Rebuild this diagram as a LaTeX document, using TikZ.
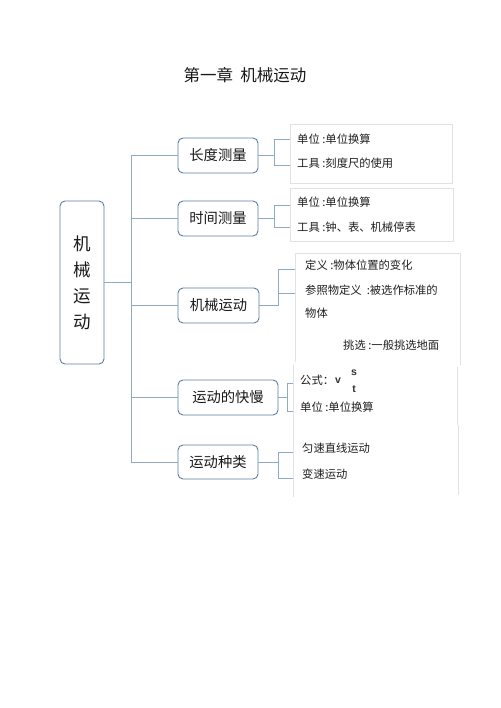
\documentclass[tikz,border=0pt]{standalone}
\usepackage{fontspec}
\newfontfamily\cjk{Noto Sans CJK SC}
\newfontfamily\lat{Liberation Sans}
\definecolor{boxc}{HTML}{5A7EA5}
\definecolor{linec}{HTML}{8FA9C8}
\definecolor{framec}{HTML}{E2E2E2}
\begin{document}
\begin{tikzpicture}[x=1pt,y=-1pt,
  topic/.style={draw=boxc, rounded corners=5pt, line width=0.9pt, font=\cjk\fontsize{14.3}{17}\selectfont, inner sep=0pt, minimum height=35pt, text=black!90},
  link/.style={draw=linec, line width=0.8pt},
  note/.style={font=\cjk\fontsize{11.3}{13}\selectfont, anchor=west, inner sep=0pt, text=black!88},
  small/.style={font=\lat\bfseries\fontsize{10.5}{11}\selectfont, inner sep=0pt, text=black!80},
  frame/.style={draw=framec, line width=0.7pt}]
\useasboundingbox[fill=white] (0,0) rectangle (500,708);

% title
\node[font=\cjk\fontsize{16.5}{19}\selectfont, text=black!90] (title) at (245,75) {第一章\ \ 机械运动};

% main box
\node[topic, minimum width=44pt, minimum height=163pt, align=center,
      font=\cjk\fontsize{17.5}{26}\selectfont] (m) at (82,282.5) {机\\械\\运\\动};

% topics
\node[topic, minimum width=80pt] (b1) at (218,155.5) {长度测量};
\node[topic, minimum width=80pt] (b2) at (218,218.5) {时间测量};
\node[topic, minimum width=81pt] (b3) at (218.5,305.5) {机械运动};
\node[topic, minimum width=100pt] (b4) at (228,397.5) {运动的快慢};
\node[topic, minimum width=80pt, minimum height=34pt] (b5) at (218,462) {运动种类};

% trunk
\coordinate (ttop) at (131,155.5);
\coordinate (tbot) at (131,462);
\draw[link] (m.east) -- (m.east -| ttop);
\draw[link] (ttop) -- (tbot);
\foreach \b in {b1,b2,b3,b4,b5} \draw[link] (\b.west -| ttop) -- (\b.west);

% frames
\draw[frame] (290,124) rectangle (452,183);
\draw[frame] (290,188) rectangle (453,241);
\draw[frame] (295,362) -- (295,253) -- (460,253) -- (460,365);
\draw[frame] (293,365) -- (293,425);
\draw[frame] (457,367) -- (457,425);
\draw[frame] (293,425) -- (293,497);
\draw[frame] (458,425) -- (458,495);

% bracket 1
\coordinate (k1) at (274,155.5);
\coordinate (n11) at (290,139);
\coordinate (n12) at (290,165);
\draw[link] (b1.east) -- (k1);
\draw[link] (n11) -| (k1);
\draw[link] (n12) -| (k1);
\node[note] (t11) at (297,139) {单位 :单位换算};
\node[note] (t12) at (297,163) {工具 :刻度尺的使用};

% bracket 2
\coordinate (k2) at (274,218.5);
\coordinate (n21) at (290,205);
\coordinate (n22) at (290,227);
\draw[link] (b2.east) -- (k2);
\draw[link] (n21) -| (k2);
\draw[link] (n22) -| (k2);
\node[note] (t21) at (297,202) {单位 :单位换算};
\node[note] (t22) at (297,227) {工具 :钟、表、机械停表};

% bracket 3
\coordinate (k3) at (278,305.5);
\coordinate (n31) at (295,269);
\coordinate (n32) at (295,293);
\draw[link] (b3.east) -- (k3);
\draw[link] (n31) -| (k3);
\draw[link] (n32) -| (k3);
\node[note] (t31) at (305,265) {定义 :物体位置的变化};
\node[note] (t32) at (305,290) {参照物定义\ \ :被选作标准的};
\node[note] (t33) at (305,313) {物体};
\node[note] (t34) at (343,345) {挑选 :一般挑选地面};

% bracket 4
\coordinate (k4) at (287,397.5);
\coordinate (n41) at (293,383);
\coordinate (n42) at (293,411);
\draw[link] (b4.east) -- (k4);
\draw[link] (n41) -| (k4);
\draw[link] (n42) -| (k4);
\node[note] (t41) at (300,380) {公式：};
\node[small, anchor=west] (t41v) at (335,381) {v};
\node[small] (t41s) at (354,373) {s};
\node[small] (t41t) at (354,389) {t};
\node[note] (t42) at (300,407) {单位 :单位换算};

% bracket 5
\coordinate (k5) at (278,462);
\coordinate (n51) at (293,452);
\coordinate (n52) at (293,478);
\draw[link] (b5.east) -- (k5);
\draw[link] (n51) -| (k5);
\draw[link] (n52) -| (k5);
\node[note] (t51) at (302,448) {匀速直线运动};
\node[note] (t52) at (302,474) {变速运动};
\end{tikzpicture}
\end{document}
